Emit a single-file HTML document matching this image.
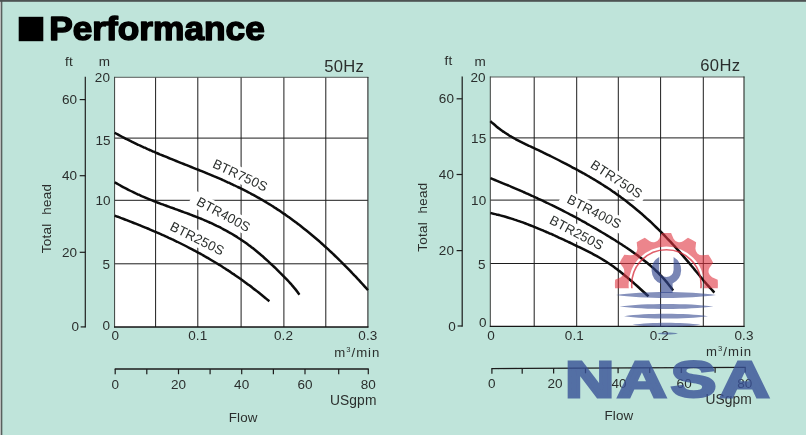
<!DOCTYPE html>
<html lang="en"><head><meta charset="utf-8"><title>Performance</title>
<style>
html,body{margin:0;padding:0;}
body{width:806px;height:435px;overflow:hidden;background:#bfe4da;font-family:"Liberation Sans", sans-serif;}
svg{display:block;}
text{font-family:"Liberation Sans", sans-serif;}
.t{font-size:13.5px;fill:#2b2f2d;letter-spacing:0.1px;}
.lb{font-size:13.3px;fill:#2b2f2d;letter-spacing:0.15px;}
.g{stroke:#1c1c1c;stroke-width:1;fill:none;}
.c{stroke:#0a0a0a;stroke-width:2.5;fill:none;stroke-linecap:butt;stroke-linejoin:round;}
</style></head><body>
<svg width="806" height="435" viewBox="0 0 806 435">
<rect x="0" y="0" width="806" height="435" fill="#bfe4da"/>
<rect x="0" y="0" width="1" height="435" fill="#b9bcbb"/>
<rect x="1" y="0" width="1.4" height="435" fill="#59605e"/>
<rect x="2.4" y="1.8" width="0.6" height="434" fill="#9dbdb5"/>
<rect x="0" y="0" width="806" height="1.8" fill="#4d5353"/>
<defs><filter id="soft" x="-2%" y="-2%" width="104%" height="104%"><feGaussianBlur stdDeviation="0.42"/></filter></defs>
<g filter="url(#soft)">
<rect x="18.7" y="16.8" width="24.6" height="24.4" fill="#000"/>
<text x="49.2" y="40.4" font-size="33.6" font-weight="bold" fill="#000" stroke="#000" stroke-width="1.5" stroke-linejoin="round" textLength="215.6" lengthAdjust="spacingAndGlyphs">Performance</text>
<g>
<rect x="114.6" y="77.3" width="253.3" height="249.7" fill="#fff"/>
<line class="g" x1="155.6" y1="77.3" x2="155.6" y2="327.0"/>
<line class="g" x1="197.8" y1="77.3" x2="197.8" y2="327.0"/>
<line class="g" x1="241.1" y1="77.3" x2="241.1" y2="327.0"/>
<line class="g" x1="283.9" y1="77.3" x2="283.9" y2="327.0"/>
<line class="g" x1="325.8" y1="77.3" x2="325.8" y2="327.0"/>
<line class="g" x1="114.6" y1="138.1" x2="367.9" y2="138.1"/>
<line class="g" x1="114.6" y1="200.3" x2="367.9" y2="200.3"/>
<line class="g" x1="114.6" y1="263.8" x2="367.9" y2="263.8"/>
<g transform="translate(211.7 167.0) rotate(25.0)"><rect x="-7" y="-12.5" width="70" height="16" fill="#fff"/></g>
<g transform="translate(195.5 204.6) rotate(28.0)"><rect x="-7" y="-12.5" width="70" height="16" fill="#fff"/></g>
<g transform="translate(168.9 229.4) rotate(26.6)"><rect x="-7" y="-12.5" width="70" height="16" fill="#fff"/></g>
<line x1="114.2" y1="77.3" x2="368.4" y2="77.3" stroke="#4a4d4b" stroke-width="0.9"/>
<line x1="114.6" y1="76.9" x2="114.6" y2="327.6" stroke="#3c3f3d" stroke-width="1.0"/>
<line x1="367.9" y1="76.9" x2="367.9" y2="327.6" stroke="#2a2c2b" stroke-width="1.1"/>
<line x1="114.1" y1="327.0" x2="368.4" y2="327.0" stroke="#151515" stroke-width="1.4"/>
<path class="c" d="M114.7 132.8 C115.2 133.1 116.7 133.9 117.7 134.4 C118.7 135.0 119.7 135.5 120.7 136.0 C121.7 136.6 122.7 137.1 123.7 137.6 C124.7 138.1 125.7 138.6 126.7 139.2 C127.7 139.7 128.7 140.2 129.7 140.7 C130.7 141.2 131.7 141.6 132.7 142.1 C133.7 142.6 134.7 143.1 135.7 143.6 C136.7 144.1 137.7 144.5 138.7 145.0 C139.7 145.5 140.7 145.9 141.7 146.4 C142.7 146.8 143.7 147.3 144.7 147.7 C145.7 148.2 146.7 148.6 147.7 149.1 C148.7 149.5 149.7 150.0 150.7 150.4 C151.7 150.8 152.7 151.3 153.7 151.7 C154.7 152.1 155.7 152.6 156.7 153.0 C157.7 153.4 158.7 153.8 159.7 154.3 C160.7 154.7 161.7 155.1 162.7 155.5 C163.7 155.9 164.7 156.3 165.7 156.7 C166.7 157.2 167.7 157.6 168.7 158.0 C169.7 158.4 170.7 158.8 171.7 159.2 C172.7 159.6 173.7 160.0 174.7 160.4 C175.7 160.8 176.7 161.2 177.7 161.6 C178.7 162.0 179.7 162.4 180.7 162.8 C181.7 163.2 182.7 163.6 183.7 164.0 C184.7 164.4 185.7 164.8 186.7 165.2 C187.7 165.6 188.7 166.0 189.7 166.4 C190.7 166.8 191.7 167.2 192.7 167.6 C193.7 168.0 194.7 168.4 195.7 168.8 C196.7 169.2 197.7 169.6 198.7 170.0 C199.7 170.4 200.7 170.8 201.7 171.2 C202.7 171.6 203.7 172.0 204.7 172.4 C205.7 172.8 206.7 173.2 207.7 173.7 C208.7 174.1 209.7 174.5 210.7 174.9 C211.7 175.3 212.7 175.7 213.7 176.2 C214.7 176.6 215.7 177.0 216.7 177.4 C217.7 177.9 218.7 178.3 219.7 178.7 C220.7 179.2 221.7 179.6 222.7 180.0 C223.7 180.5 224.7 180.9 225.7 181.4 C226.7 181.8 227.7 182.3 228.7 182.7 C229.7 183.2 230.7 183.6 231.7 184.1 C232.7 184.6 233.7 185.0 234.7 185.5 C235.7 186.0 236.7 186.5 237.7 187.0 C238.7 187.4 239.7 187.9 240.7 188.4 C241.7 188.9 242.7 189.4 243.7 189.9 C244.7 190.4 245.7 190.9 246.7 191.4 C247.7 192.0 248.7 192.5 249.7 193.0 C250.7 193.5 251.7 194.1 252.7 194.6 C253.7 195.1 254.7 195.7 255.7 196.2 C256.7 196.8 257.7 197.3 258.7 197.9 C259.7 198.5 260.7 199.0 261.7 199.6 C262.7 200.2 263.7 200.8 264.7 201.4 C265.7 202.0 266.7 202.6 267.7 203.2 C268.7 203.8 269.7 204.4 270.7 205.0 C271.7 205.7 272.7 206.3 273.7 206.9 C274.7 207.6 275.7 208.2 276.7 208.9 C277.7 209.5 278.7 210.2 279.7 210.8 C280.7 211.5 281.7 212.2 282.7 212.9 C283.7 213.6 284.7 214.2 285.7 214.9 C286.7 215.6 287.7 216.4 288.7 217.1 C289.7 217.8 290.7 218.5 291.7 219.2 C292.7 220.0 293.7 220.7 294.7 221.4 C295.7 222.2 296.7 222.9 297.7 223.7 C298.7 224.5 299.7 225.2 300.7 226.0 C301.7 226.8 302.7 227.6 303.7 228.4 C304.7 229.2 305.7 230.0 306.7 230.8 C307.7 231.6 308.7 232.4 309.7 233.2 C310.7 234.0 311.7 234.9 312.7 235.7 C313.7 236.5 314.7 237.4 315.7 238.2 C316.7 239.1 317.7 240.0 318.7 240.8 C319.7 241.7 320.7 242.6 321.7 243.5 C322.7 244.4 323.7 245.3 324.7 246.2 C325.7 247.1 326.7 248.0 327.7 248.9 C328.7 249.8 329.7 250.8 330.7 251.7 C331.7 252.6 332.7 253.6 333.7 254.5 C334.7 255.5 335.7 256.5 336.7 257.4 C337.7 258.4 338.7 259.4 339.7 260.4 C340.7 261.3 341.7 262.3 342.7 263.3 C343.7 264.3 344.7 265.3 345.7 266.4 C346.7 267.4 347.7 268.4 348.7 269.4 C349.7 270.5 350.7 271.5 351.7 272.5 C352.7 273.6 353.7 274.6 354.7 275.7 C355.7 276.7 356.7 277.8 357.7 278.9 C358.7 279.9 359.7 281.0 360.7 282.1 C361.7 283.2 362.7 284.3 363.7 285.4 C364.7 286.5 366.0 287.9 366.7 288.7 C367.4 289.5 367.8 289.9 368.0 290.1"/>
<path class="c" d="M114.7 182.2 C115.2 182.5 116.7 183.4 117.7 184.0 C118.7 184.6 119.7 185.2 120.7 185.7 C121.7 186.3 122.7 186.8 123.7 187.4 C124.7 187.9 125.7 188.4 126.7 188.9 C127.7 189.5 128.7 190.0 129.7 190.5 C130.7 191.0 131.7 191.5 132.7 191.9 C133.7 192.4 134.7 192.9 135.7 193.4 C136.7 193.8 137.7 194.3 138.7 194.7 C139.7 195.2 140.7 195.6 141.7 196.1 C142.7 196.5 143.7 196.9 144.7 197.3 C145.7 197.8 146.7 198.2 147.7 198.6 C148.7 199.0 149.7 199.4 150.7 199.8 C151.7 200.2 152.7 200.6 153.7 201.0 C154.7 201.4 155.7 201.8 156.7 202.2 C157.7 202.5 158.7 202.9 159.7 203.3 C160.7 203.7 161.7 204.1 162.7 204.4 C163.7 204.8 164.7 205.2 165.7 205.5 C166.7 205.9 167.7 206.3 168.7 206.6 C169.7 207.0 170.7 207.4 171.7 207.7 C172.7 208.1 173.7 208.4 174.7 208.8 C175.7 209.2 176.7 209.5 177.7 209.9 C178.7 210.3 179.7 210.6 180.7 211.0 C181.7 211.3 182.7 211.7 183.7 212.1 C184.7 212.4 185.7 212.8 186.7 213.2 C187.7 213.6 188.7 213.9 189.7 214.3 C190.7 214.7 191.7 215.1 192.7 215.5 C193.7 215.8 194.7 216.2 195.7 216.6 C196.7 217.0 197.7 217.4 198.7 217.8 C199.7 218.2 200.7 218.6 201.7 219.0 C202.7 219.5 203.7 219.9 204.7 220.3 C205.7 220.7 206.7 221.2 207.7 221.6 C208.7 222.0 209.7 222.5 210.7 222.9 C211.7 223.4 212.7 223.9 213.7 224.3 C214.7 224.8 215.7 225.3 216.7 225.8 C217.7 226.2 218.7 226.7 219.7 227.2 C220.7 227.7 221.7 228.3 222.7 228.8 C223.7 229.3 224.7 229.8 225.7 230.4 C226.7 230.9 227.7 231.5 228.7 232.1 C229.7 232.6 230.7 233.2 231.7 233.8 C232.7 234.4 233.7 235.0 234.7 235.6 C235.7 236.2 236.7 236.8 237.7 237.5 C238.7 238.1 239.7 238.8 240.7 239.4 C241.7 240.1 242.7 240.8 243.7 241.5 C244.7 242.2 245.7 242.9 246.7 243.6 C247.7 244.3 248.7 245.1 249.7 245.8 C250.7 246.6 251.7 247.3 252.7 248.1 C253.7 248.9 254.7 249.7 255.7 250.5 C256.7 251.3 257.7 252.2 258.7 253.0 C259.7 253.8 260.7 254.7 261.7 255.6 C262.7 256.4 263.7 257.3 264.7 258.2 C265.7 259.1 266.7 260.0 267.7 260.9 C268.7 261.8 269.7 262.8 270.7 263.7 C271.7 264.6 272.7 265.6 273.7 266.5 C274.7 267.5 275.7 268.4 276.7 269.4 C277.7 270.4 278.7 271.4 279.7 272.4 C280.7 273.3 281.7 274.3 282.7 275.3 C283.7 276.4 284.7 277.4 285.7 278.4 C286.7 279.4 287.7 280.4 288.7 281.5 C289.7 282.6 290.7 283.6 291.7 284.8 C292.7 285.9 293.7 287.1 294.7 288.4 C295.7 289.6 296.9 291.2 297.7 292.3 C298.5 293.4 299.1 294.3 299.4 294.7"/>
<path class="c" d="M114.7 215.6 C115.2 215.8 116.7 216.4 117.7 216.7 C118.7 217.1 119.7 217.5 120.7 217.9 C121.7 218.2 122.7 218.6 123.7 219.0 C124.7 219.4 125.7 219.8 126.7 220.1 C127.7 220.5 128.7 220.9 129.7 221.3 C130.7 221.7 131.7 222.1 132.7 222.5 C133.7 222.9 134.7 223.3 135.7 223.6 C136.7 224.0 137.7 224.4 138.7 224.8 C139.7 225.2 140.7 225.7 141.7 226.1 C142.7 226.5 143.7 226.9 144.7 227.3 C145.7 227.7 146.7 228.1 147.7 228.5 C148.7 228.9 149.7 229.4 150.7 229.8 C151.7 230.2 152.7 230.6 153.7 231.1 C154.7 231.5 155.7 231.9 156.7 232.4 C157.7 232.8 158.7 233.2 159.7 233.7 C160.7 234.1 161.7 234.6 162.7 235.0 C163.7 235.5 164.7 235.9 165.7 236.4 C166.7 236.8 167.7 237.3 168.7 237.8 C169.7 238.2 170.7 238.7 171.7 239.2 C172.7 239.6 173.7 240.1 174.7 240.6 C175.7 241.1 176.7 241.5 177.7 242.0 C178.7 242.5 179.7 243.0 180.7 243.5 C181.7 244.0 182.7 244.5 183.7 245.0 C184.7 245.5 185.7 246.0 186.7 246.5 C187.7 247.0 188.7 247.5 189.7 248.1 C190.7 248.6 191.7 249.1 192.7 249.6 C193.7 250.2 194.7 250.7 195.7 251.2 C196.7 251.8 197.7 252.3 198.7 252.9 C199.7 253.4 200.7 254.0 201.7 254.5 C202.7 255.1 203.7 255.6 204.7 256.2 C205.7 256.8 206.7 257.3 207.7 257.9 C208.7 258.5 209.7 259.1 210.7 259.7 C211.7 260.3 212.7 260.9 213.7 261.5 C214.7 262.1 215.7 262.7 216.7 263.3 C217.7 263.9 218.7 264.5 219.7 265.1 C220.7 265.8 221.7 266.4 222.7 267.0 C223.7 267.6 224.7 268.3 225.7 268.9 C226.7 269.6 227.7 270.2 228.7 270.9 C229.7 271.5 230.7 272.2 231.7 272.9 C232.7 273.6 233.7 274.2 234.7 274.9 C235.7 275.6 236.7 276.3 237.7 277.0 C238.7 277.7 239.7 278.4 240.7 279.1 C241.7 279.8 242.7 280.5 243.7 281.2 C244.7 282.0 245.7 282.7 246.7 283.4 C247.7 284.2 248.7 284.9 249.7 285.6 C250.7 286.4 251.7 287.2 252.7 287.9 C253.7 288.7 254.7 289.5 255.7 290.2 C256.7 291.0 257.7 291.8 258.7 292.6 C259.7 293.4 260.7 294.2 261.7 295.0 C262.7 295.8 263.7 296.6 264.7 297.4 C265.7 298.2 266.9 299.3 267.7 299.9 C268.5 300.6 269.1 301.1 269.4 301.3"/>
<text class="lb" transform="translate(211.7 167.0) rotate(25.0)" x="0" y="0">BTR750S</text>
<text class="lb" transform="translate(195.5 204.6) rotate(28.0)" x="0" y="0">BTR400S</text>
<text class="lb" transform="translate(168.9 229.4) rotate(26.6)" x="0" y="0">BTR250S</text>
<text x="364.2" y="71.9" font-size="16.6" fill="#2b2f2d" text-anchor="end" letter-spacing="0.3">50Hz</text>
<text class="t" x="110.0" y="330.3" text-anchor="end">0</text>
<text class="t" x="110.0" y="269.1" text-anchor="end">5</text>
<text class="t" x="110.6" y="205.3" text-anchor="end">10</text>
<text class="t" x="110.6" y="144.7" text-anchor="end">15</text>
<text class="t" x="110.0" y="81.5" text-anchor="end">20</text>
<text class="t" x="104.4" y="66" text-anchor="middle">m</text>
<line class="g" x1="85.3" y1="76.8" x2="85.3" y2="327.4" style="stroke-width:1.2"/>
<line class="g" x1="80.7" y1="326.9" x2="85.3" y2="326.9" style="stroke-width:1.2"/>
<text class="t" x="79.0" y="331.4" text-anchor="end">0</text>
<line class="g" x1="79.7" y1="252.3" x2="85.3" y2="252.3" style="stroke-width:1.2"/>
<text class="t" x="77.1" y="256.8" text-anchor="end">20</text>
<line class="g" x1="79.7" y1="175.7" x2="85.3" y2="175.7" style="stroke-width:1.2"/>
<text class="t" x="77.1" y="180.2" text-anchor="end">40</text>
<line class="g" x1="79.7" y1="99.6" x2="85.3" y2="99.6" style="stroke-width:1.2"/>
<text class="t" x="77.1" y="104.1" text-anchor="end">60</text>
<text class="t" x="68.9" y="66.0" text-anchor="middle">ft</text>
<text class="t" transform="translate(50.6 218.5) rotate(-90)" x="0" y="0" text-anchor="middle" style="font-size:13.4px;word-spacing:4.5px;letter-spacing:0.3px">Total head</text>
<text class="t" x="115.4" y="340.2" text-anchor="middle">0</text>
<text class="t" x="197.8" y="340.2" text-anchor="middle">0.1</text>
<text class="t" x="283.5" y="340.2" text-anchor="middle">0.2</text>
<text class="t" x="367.9" y="340.2" text-anchor="middle">0.3</text>
<text class="t" x="380.4" y="356.8" text-anchor="end" style="font-size:13.2px;letter-spacing:1.0px">m<tspan font-size="7.6" dy="-5">3</tspan><tspan dy="5">/min</tspan></text>
<line class="g" x1="114.7" y1="369.0" x2="368.8" y2="369.0" style="stroke-width:1.3"/>
<line class="g" x1="115.2" y1="369.0" x2="115.2" y2="374.2" style="stroke-width:1.2"/>
<text class="t" x="115.2" y="388.6" text-anchor="middle">0</text>
<line class="g" x1="146.8" y1="369.0" x2="146.8" y2="374.2" style="stroke-width:1.2"/>
<line class="g" x1="178.5" y1="369.0" x2="178.5" y2="374.2" style="stroke-width:1.2"/>
<text class="t" x="178.5" y="388.6" text-anchor="middle">20</text>
<line class="g" x1="210.1" y1="369.0" x2="210.1" y2="374.2" style="stroke-width:1.2"/>
<line class="g" x1="241.7" y1="369.0" x2="241.7" y2="374.2" style="stroke-width:1.2"/>
<text class="t" x="241.7" y="388.6" text-anchor="middle">40</text>
<line class="g" x1="273.4" y1="369.0" x2="273.4" y2="374.2" style="stroke-width:1.2"/>
<line class="g" x1="305.0" y1="369.0" x2="305.0" y2="374.2" style="stroke-width:1.2"/>
<text class="t" x="305.0" y="388.6" text-anchor="middle">60</text>
<line class="g" x1="338.7" y1="369.0" x2="338.7" y2="374.2" style="stroke-width:1.2"/>
<line class="g" x1="368.3" y1="369.0" x2="368.3" y2="374.2" style="stroke-width:1.2"/>
<text class="t" x="368.3" y="388.6" text-anchor="middle">80</text>
<text class="t" x="376.5" y="405.0" text-anchor="end" style="font-size:13.8px">USgpm</text>
<text class="t" x="243.2" y="421.5" text-anchor="middle" style="font-size:13.4px">Flow</text>
</g>
<g>
<rect x="490.3" y="77.0" width="253.7" height="249.4" fill="#fff"/>
<line class="g" x1="534.2" y1="77.0" x2="534.2" y2="326.4"/>
<line class="g" x1="576.7" y1="77.0" x2="576.7" y2="326.4"/>
<line class="g" x1="618.3" y1="77.0" x2="618.3" y2="326.4"/>
<line class="g" x1="660.6" y1="77.0" x2="660.6" y2="326.4"/>
<line class="g" x1="703.3" y1="77.0" x2="703.3" y2="326.4"/>
<line class="g" x1="490.3" y1="137.9" x2="744.0" y2="137.9"/>
<line class="g" x1="490.3" y1="200.1" x2="744.0" y2="200.1"/>
<line class="g" x1="490.3" y1="263.5" x2="744.0" y2="263.5"/>
<g transform="translate(589.4 167.0) rotate(33.0)"><rect x="-7" y="-12.5" width="70" height="16" fill="#fff"/></g>
<g transform="translate(566.0 202.3) rotate(27.3)"><rect x="-7" y="-12.5" width="70" height="16" fill="#fff"/></g>
<g transform="translate(548.5 223.1) rotate(27.7)"><rect x="-7" y="-12.5" width="70" height="16" fill="#fff"/></g>
<line x1="489.9" y1="77.0" x2="744.5" y2="77.0" stroke="#4a4d4b" stroke-width="0.9"/>
<line x1="490.3" y1="76.6" x2="490.3" y2="327.0" stroke="#3c3f3d" stroke-width="1.0"/>
<line x1="744.0" y1="76.6" x2="744.0" y2="327.0" stroke="#2a2c2b" stroke-width="1.1"/>
<line x1="489.8" y1="326.4" x2="744.5" y2="326.4" stroke="#151515" stroke-width="1.4"/>
<path class="c" d="M490.4 121.1 C490.9 121.6 492.4 123.0 493.4 123.8 C494.4 124.7 495.4 125.6 496.4 126.4 C497.4 127.2 498.4 128.0 499.4 128.7 C500.4 129.5 501.4 130.2 502.4 130.9 C503.4 131.7 504.4 132.3 505.4 133.0 C506.4 133.7 507.4 134.3 508.4 134.9 C509.4 135.6 510.4 136.2 511.4 136.7 C512.4 137.3 513.4 137.9 514.4 138.5 C515.4 139.0 516.4 139.6 517.4 140.1 C518.4 140.6 519.4 141.1 520.4 141.6 C521.4 142.1 522.4 142.6 523.4 143.1 C524.4 143.6 525.4 144.1 526.4 144.6 C527.4 145.1 528.4 145.5 529.4 146.0 C530.4 146.5 531.4 146.9 532.4 147.4 C533.4 147.9 534.4 148.4 535.4 148.8 C536.4 149.3 537.4 149.8 538.4 150.2 C539.4 150.7 540.4 151.2 541.4 151.7 C542.4 152.2 543.4 152.6 544.4 153.1 C545.4 153.6 546.4 154.1 547.4 154.6 C548.4 155.1 549.4 155.6 550.4 156.0 C551.4 156.5 552.4 157.0 553.4 157.5 C554.4 158.0 555.4 158.5 556.4 159.0 C557.4 159.5 558.4 160.0 559.4 160.5 C560.4 161.1 561.4 161.6 562.4 162.1 C563.4 162.6 564.4 163.1 565.4 163.6 C566.4 164.1 567.4 164.7 568.4 165.2 C569.4 165.7 570.4 166.2 571.4 166.8 C572.4 167.3 573.4 167.8 574.4 168.4 C575.4 168.9 576.4 169.5 577.4 170.0 C578.4 170.5 579.4 171.1 580.4 171.6 C581.4 172.2 582.4 172.8 583.4 173.3 C584.4 173.9 585.4 174.4 586.4 175.0 C587.4 175.6 588.4 176.2 589.4 176.7 C590.4 177.3 591.4 177.9 592.4 178.5 C593.4 179.1 594.4 179.7 595.4 180.3 C596.4 180.9 597.4 181.5 598.4 182.1 C599.4 182.7 600.4 183.3 601.4 184.0 C602.4 184.6 603.4 185.2 604.4 185.9 C605.4 186.5 606.4 187.2 607.4 187.8 C608.4 188.5 609.4 189.1 610.4 189.8 C611.4 190.5 612.4 191.2 613.4 191.9 C614.4 192.5 615.4 193.2 616.4 193.9 C617.4 194.7 618.4 195.4 619.4 196.1 C620.4 196.8 621.4 197.6 622.4 198.3 C623.4 199.0 624.4 199.8 625.4 200.6 C626.4 201.3 627.4 202.1 628.4 202.9 C629.4 203.7 630.4 204.4 631.4 205.3 C632.4 206.1 633.4 206.9 634.4 207.7 C635.4 208.5 636.4 209.3 637.4 210.2 C638.4 211.0 639.4 211.9 640.4 212.8 C641.4 213.6 642.4 214.5 643.4 215.4 C644.4 216.3 645.4 217.2 646.4 218.1 C647.4 219.0 648.4 219.9 649.4 220.8 C650.4 221.7 651.4 222.7 652.4 223.6 C653.4 224.6 654.4 225.5 655.4 226.5 C656.4 227.4 657.4 228.4 658.4 229.4 C659.4 230.4 660.4 231.4 661.4 232.4 C662.4 233.4 663.4 234.4 664.4 235.4 C665.4 236.5 666.4 237.5 667.4 238.6 C668.4 239.6 669.4 240.7 670.4 241.7 C671.4 242.8 672.4 243.9 673.4 245.0 C674.4 246.1 675.4 247.2 676.4 248.3 C677.4 249.4 678.4 250.5 679.4 251.6 C680.4 252.8 681.4 253.9 682.4 255.1 C683.4 256.2 684.4 257.4 685.4 258.6 C686.4 259.7 687.4 260.9 688.4 262.1 C689.4 263.3 690.4 264.5 691.4 265.7 C692.4 266.9 693.4 268.2 694.4 269.4 C695.4 270.6 696.4 271.8 697.4 273.0 C698.4 274.3 699.4 275.5 700.4 276.7 C701.4 277.9 702.4 279.1 703.4 280.3 C704.4 281.4 705.4 282.6 706.4 283.8 C707.4 284.9 708.4 286.0 709.4 287.1 C710.4 288.2 711.5 289.5 712.4 290.4 C713.2 291.3 714.1 292.2 714.5 292.5"/>
<path class="c" d="M490.4 178.2 C490.9 178.4 492.4 179.0 493.4 179.4 C494.4 179.8 495.4 180.2 496.4 180.6 C497.4 181.0 498.4 181.4 499.4 181.8 C500.4 182.2 501.4 182.6 502.4 183.1 C503.4 183.5 504.4 183.9 505.4 184.3 C506.4 184.7 507.4 185.1 508.4 185.5 C509.4 186.0 510.4 186.4 511.4 186.8 C512.4 187.2 513.4 187.6 514.4 188.1 C515.4 188.5 516.4 188.9 517.4 189.4 C518.4 189.8 519.4 190.2 520.4 190.7 C521.4 191.1 522.4 191.5 523.4 192.0 C524.4 192.4 525.4 192.9 526.4 193.3 C527.4 193.7 528.4 194.2 529.4 194.6 C530.4 195.1 531.4 195.5 532.4 196.0 C533.4 196.5 534.4 196.9 535.4 197.4 C536.4 197.8 537.4 198.3 538.4 198.8 C539.4 199.2 540.4 199.7 541.4 200.2 C542.4 200.6 543.4 201.1 544.4 201.6 C545.4 202.1 546.4 202.5 547.4 203.0 C548.4 203.5 549.4 204.0 550.4 204.5 C551.4 205.0 552.4 205.4 553.4 205.9 C554.4 206.4 555.4 206.9 556.4 207.4 C557.4 207.9 558.4 208.4 559.4 208.9 C560.4 209.4 561.4 209.9 562.4 210.4 C563.4 211.0 564.4 211.5 565.4 212.0 C566.4 212.5 567.4 213.0 568.4 213.5 C569.4 214.1 570.4 214.6 571.4 215.1 C572.4 215.6 573.4 216.2 574.4 216.7 C575.4 217.2 576.4 217.8 577.4 218.3 C578.4 218.9 579.4 219.4 580.4 220.0 C581.4 220.5 582.4 221.1 583.4 221.6 C584.4 222.2 585.4 222.7 586.4 223.3 C587.4 223.8 588.4 224.4 589.4 225.0 C590.4 225.5 591.4 226.1 592.4 226.7 C593.4 227.3 594.4 227.8 595.4 228.4 C596.4 229.0 597.4 229.6 598.4 230.2 C599.4 230.8 600.4 231.4 601.4 232.0 C602.4 232.5 603.4 233.1 604.4 233.7 C605.4 234.4 606.4 235.0 607.4 235.6 C608.4 236.2 609.4 236.8 610.4 237.4 C611.4 238.0 612.4 238.7 613.4 239.3 C614.4 239.9 615.4 240.5 616.4 241.2 C617.4 241.8 618.4 242.4 619.4 243.1 C620.4 243.7 621.4 244.4 622.4 245.0 C623.4 245.7 624.4 246.3 625.4 247.0 C626.4 247.6 627.4 248.3 628.4 249.0 C629.4 249.7 630.4 250.4 631.4 251.1 C632.4 251.7 633.4 252.5 634.4 253.2 C635.4 253.9 636.4 254.6 637.4 255.3 C638.4 256.1 639.4 256.8 640.4 257.6 C641.4 258.3 642.4 259.1 643.4 259.9 C644.4 260.7 645.4 261.5 646.4 262.3 C647.4 263.1 648.4 264.0 649.4 264.8 C650.4 265.7 651.4 266.5 652.4 267.4 C653.4 268.3 654.4 269.2 655.4 270.2 C656.4 271.1 657.4 272.0 658.4 273.0 C659.4 274.0 660.4 275.1 661.4 276.1 C662.4 277.2 663.4 278.3 664.4 279.4 C665.4 280.5 666.4 281.7 667.4 282.9 C668.4 284.2 669.4 285.5 670.4 286.7 C671.4 288.0 672.7 289.9 673.2 290.6"/>
<path class="c" d="M490.4 213.0 C490.9 213.1 492.4 213.4 493.4 213.7 C494.4 213.9 495.4 214.1 496.4 214.4 C497.4 214.6 498.4 214.9 499.4 215.1 C500.4 215.4 501.4 215.7 502.4 215.9 C503.4 216.2 504.4 216.5 505.4 216.8 C506.4 217.1 507.4 217.4 508.4 217.7 C509.4 218.0 510.4 218.3 511.4 218.6 C512.4 218.9 513.4 219.2 514.4 219.6 C515.4 219.9 516.4 220.2 517.4 220.6 C518.4 220.9 519.4 221.3 520.4 221.6 C521.4 222.0 522.4 222.3 523.4 222.7 C524.4 223.1 525.4 223.4 526.4 223.8 C527.4 224.2 528.4 224.6 529.4 225.0 C530.4 225.3 531.4 225.7 532.4 226.1 C533.4 226.5 534.4 226.9 535.4 227.3 C536.4 227.7 537.4 228.1 538.4 228.6 C539.4 229.0 540.4 229.4 541.4 229.8 C542.4 230.2 543.4 230.7 544.4 231.1 C545.4 231.5 546.4 232.0 547.4 232.4 C548.4 232.8 549.4 233.3 550.4 233.7 C551.4 234.2 552.4 234.6 553.4 235.0 C554.4 235.5 555.4 235.9 556.4 236.4 C557.4 236.9 558.4 237.3 559.4 237.8 C560.4 238.2 561.4 238.7 562.4 239.2 C563.4 239.6 564.4 240.1 565.4 240.6 C566.4 241.0 567.4 241.5 568.4 242.0 C569.4 242.4 570.4 242.9 571.4 243.4 C572.4 243.9 573.4 244.3 574.4 244.8 C575.4 245.3 576.4 245.8 577.4 246.3 C578.4 246.7 579.4 247.2 580.4 247.7 C581.4 248.2 582.4 248.7 583.4 249.2 C584.4 249.7 585.4 250.2 586.4 250.7 C587.4 251.2 588.4 251.7 589.4 252.2 C590.4 252.7 591.4 253.2 592.4 253.7 C593.4 254.3 594.4 254.8 595.4 255.4 C596.4 255.9 597.4 256.5 598.4 257.0 C599.4 257.6 600.4 258.2 601.4 258.8 C602.4 259.4 603.4 260.0 604.4 260.6 C605.4 261.2 606.4 261.9 607.4 262.5 C608.4 263.2 609.4 263.8 610.4 264.5 C611.4 265.2 612.4 265.9 613.4 266.6 C614.4 267.3 615.4 268.1 616.4 268.8 C617.4 269.6 618.4 270.3 619.4 271.1 C620.4 271.9 621.4 272.7 622.4 273.5 C623.4 274.3 624.4 275.1 625.4 275.9 C626.4 276.7 627.4 277.6 628.4 278.4 C629.4 279.3 630.4 280.1 631.4 281.0 C632.4 281.9 633.4 282.7 634.4 283.6 C635.4 284.5 636.4 285.4 637.4 286.3 C638.4 287.2 639.4 288.1 640.4 289.0 C641.4 289.9 642.4 290.8 643.4 291.7 C644.4 292.6 645.6 293.7 646.4 294.5 C647.2 295.3 648.1 296.0 648.4 296.3"/>
<text class="lb" transform="translate(589.4 167.0) rotate(33.0)" x="0" y="0">BTR750S</text>
<text class="lb" transform="translate(566.0 202.3) rotate(27.3)" x="0" y="0">BTR400S</text>
<text class="lb" transform="translate(548.5 223.1) rotate(27.7)" x="0" y="0">BTR250S</text>
<text x="740.3" y="70.6" font-size="16.6" fill="#2b2f2d" text-anchor="end" letter-spacing="0.3">60Hz</text>
<text class="t" x="486.7" y="327.2" text-anchor="end">0</text>
<text class="t" x="485.7" y="268.7" text-anchor="end">5</text>
<text class="t" x="486.3" y="205.3" text-anchor="end">10</text>
<text class="t" x="486.3" y="143.4" text-anchor="end">15</text>
<text class="t" x="485.7" y="82.0" text-anchor="end">20</text>
<text class="t" x="480.1" y="66" text-anchor="middle">m</text>
<line class="g" x1="462.2" y1="76.5" x2="462.2" y2="326.8" style="stroke-width:1.2"/>
<line class="g" x1="457.6" y1="326.0" x2="462.2" y2="326.0" style="stroke-width:1.2"/>
<text class="t" x="455.9" y="330.5" text-anchor="end">0</text>
<line class="g" x1="456.6" y1="250.6" x2="462.2" y2="250.6" style="stroke-width:1.2"/>
<text class="t" x="454.0" y="255.1" text-anchor="end">20</text>
<line class="g" x1="456.6" y1="174.5" x2="462.2" y2="174.5" style="stroke-width:1.2"/>
<text class="t" x="454.0" y="179.0" text-anchor="end">40</text>
<line class="g" x1="456.6" y1="98.8" x2="462.2" y2="98.8" style="stroke-width:1.2"/>
<text class="t" x="454.0" y="103.3" text-anchor="end">60</text>
<text class="t" x="448.4" y="65.4" text-anchor="middle">ft</text>
<text class="t" transform="translate(426.9 217.2) rotate(-90)" x="0" y="0" text-anchor="middle" style="font-size:13.4px;word-spacing:4.5px;letter-spacing:0.3px">Total head</text>
<text class="t" x="491.1" y="340.0" text-anchor="middle">0</text>
<text class="t" x="574.4" y="340.0" text-anchor="middle">0.1</text>
<text class="t" x="659.4" y="340.0" text-anchor="middle">0.2</text>
<text class="t" x="744.0" y="340.0" text-anchor="middle">0.3</text>
<text class="t" x="752.2" y="355.6" text-anchor="end" style="font-size:13.2px;letter-spacing:1.0px">m<tspan font-size="7.6" dy="-5">3</tspan><tspan dy="5">/min</tspan></text>
<line class="g" x1="491.4" y1="368.6" x2="745.7" y2="367.4" style="stroke-width:1.3"/>
<line class="g" x1="491.9" y1="368.6" x2="491.9" y2="373.8" style="stroke-width:1.2"/>
<text class="t" x="491.9" y="388.3" text-anchor="middle">0</text>
<line class="g" x1="522.2" y1="368.5" x2="522.2" y2="373.7" style="stroke-width:1.2"/>
<line class="g" x1="553.6" y1="368.3" x2="553.6" y2="373.5" style="stroke-width:1.2"/>
<text class="t" x="555.0" y="388.3" text-anchor="middle">20</text>
<line class="g" x1="585.5" y1="368.1" x2="585.5" y2="373.3" style="stroke-width:1.2"/>
<line class="g" x1="618.1" y1="368.0" x2="618.1" y2="373.2" style="stroke-width:1.2"/>
<text class="t" x="619.0" y="388.3" text-anchor="middle">40</text>
<line class="g" x1="649.7" y1="367.9" x2="649.7" y2="373.1" style="stroke-width:1.2"/>
<line class="g" x1="681.3" y1="367.7" x2="681.3" y2="372.9" style="stroke-width:1.2"/>
<text class="t" x="684.2" y="388.3" text-anchor="middle">60</text>
<line class="g" x1="715.1" y1="367.5" x2="715.1" y2="372.7" style="stroke-width:1.2"/>
<line class="g" x1="745.2" y1="367.4" x2="745.2" y2="372.6" style="stroke-width:1.2"/>
<text class="t" x="744.8" y="388.3" text-anchor="middle">80</text>
<text class="t" x="751.9" y="404.1" text-anchor="end" style="font-size:13.8px">USgpm</text>
<text class="t" x="618.9" y="419.7" text-anchor="middle" style="font-size:13.4px">Flow</text>
</g>
<g opacity="1">
<defs><clipPath id="topHalf"><rect x="600" y="220" width="140" height="68.2"/></clipPath></defs>
<g clip-path="url(#topHalf)" fill="#e0333f" fill-opacity="0.6">
<path fill-rule="evenodd" d="M712.04 291.57 L717.69 289.09 A51.5 51.5 0 0 0 717.69 279.71 L712.04 277.23 A6.8 6.8 0 0 1 709.51 267.79 L713.16 262.82 A51.5 51.5 0 0 0 708.47 254.69 L702.34 255.37 A6.8 6.8 0 0 1 695.43 248.46 L696.11 242.33 A51.5 51.5 0 0 0 687.98 237.64 L683.01 241.29 A6.8 6.8 0 0 1 673.57 238.76 L671.09 233.11 A51.5 51.5 0 0 0 661.71 233.11 L659.23 238.76 A6.8 6.8 0 0 1 649.79 241.29 L644.82 237.64 A51.5 51.5 0 0 0 636.69 242.33 L637.37 248.46 A6.8 6.8 0 0 1 630.46 255.37 L624.33 254.69 A51.5 51.5 0 0 0 619.64 262.82 L623.29 267.79 A6.8 6.8 0 0 1 620.76 277.23 L615.11 279.71 A51.5 51.5 0 0 0 615.11 289.09 L620.76 291.57 A6.8 6.8 0 0 1 623.29 301.01 L619.64 305.98 A51.5 51.5 0 0 0 624.33 314.11 L630.46 313.43 A6.8 6.8 0 0 1 637.37 320.34 L636.69 326.47 A51.5 51.5 0 0 0 644.82 331.16 L649.79 327.51 A6.8 6.8 0 0 1 659.23 330.04 L661.71 335.69 A51.5 51.5 0 0 0 671.09 335.69 L673.57 330.04 A6.8 6.8 0 0 1 683.01 327.51 L687.98 331.16 A51.5 51.5 0 0 0 696.11 326.47 L695.43 320.34 A6.8 6.8 0 0 1 702.34 313.43 L708.47 314.11 A51.5 51.5 0 0 0 713.16 305.98 L709.51 301.01 A6.8 6.8 0 0 1 712.04 291.57 Z M704.20 284.40 A37.8 37.8 0 1 1 628.60 284.40 A37.8 37.8 0 1 1 704.20 284.40 Z"/>
<circle cx="666.4" cy="284.4" r="34.7" fill="none" stroke="#d62a38" stroke-opacity="0.75" stroke-width="1.6"/>
</g>
<path fill="#33488f" fill-opacity="0.66" d="M659.2 257.1 A14.8 14.8 0 0 0 661.0 283.8 L661.0 293 L672.6 293 L672.6 283.4 A14.8 14.8 0 0 0 673.6 257.1 L673.6 269.8 A7.2 7.2 0 0 1 659.2 269.8 Z"/>
<path fill="#33488f" fill-opacity="0.6" d="M616.0 295.0 C643.0 291.1 689.0 291.1 716.0 295.0 C689.0 298.9 643.0 298.9 616.0 295.0 Z"/>
<path fill="#33488f" fill-opacity="0.6" d="M619.5 306.6 C644.9 303.3 688.1 303.3 713.5 306.6 C688.1 309.9 644.9 309.9 619.5 306.6 Z"/>
<path fill="#33488f" fill-opacity="0.6" d="M624.0 316.2 C646.7 313.0 685.3 313.0 708.0 316.2 C685.3 319.4 646.7 319.4 624.0 316.2 Z"/>
<path fill="#33488f" fill-opacity="0.6" d="M632.5 324.8 C650.9 322.0 682.1 322.0 700.5 324.8 C682.1 327.6 650.9 327.6 632.5 324.8 Z"/>
<path fill="#33488f" fill-opacity="0.6" d="M657.0 333.4 C662.7 332.1 672.3 332.1 678.0 333.4 C672.3 334.7 662.7 334.7 657.0 333.4 Z"/>
<g opacity="0.8"><text transform="scale(1.36 1)" x="415.5 453.9 493.3 529.4" y="396.8" font-size="50.2" font-weight="bold" fill="#3a5296" stroke="#3a5296" stroke-width="2.8" stroke-linejoin="miter">NASA</text></g>
</g>
</g>
</svg>
</body></html>
